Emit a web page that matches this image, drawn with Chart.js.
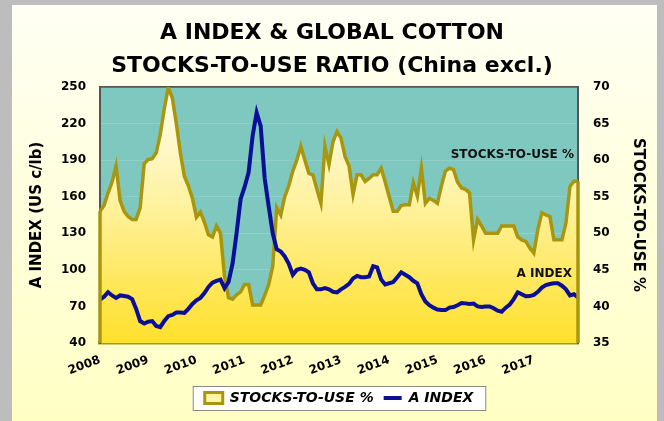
<!DOCTYPE html>
<html>
<head>
<meta charset="utf-8">
<script src="https://cdn.jsdelivr.net/npm/chart.js@4"></script>
<style>
  html, body { margin: 0; padding: 0; }
  body { width: 664px; height: 421px; background: #bdbdbd; position: relative; overflow: hidden; }
  #panel { position: absolute; left: 12px; top: 5px; width: 645px; height: 416px;
           background: linear-gradient(#fffff4, #ffffc4); }
  #chart { position: absolute; left: 0; top: 0; }
</style>
</head>
<body>
<div id="panel"></div>
<canvas id="chart" width="664" height="421"></canvas>
<script>
// Monthly data, Jan 2008 - Dec 2017
const years = ["2008", "2009", "2010", "2011", "2012", "2013", "2014", "2015", "2016", "2017"];

// A INDEX, US cents per lb (left axis)
const aIndex = [
    75.5, 78, 81.6, 79, 77, 79, 78.5, 78, 76, 68, 58, 56,
    57.5, 58, 54, 53, 58, 62, 63, 65, 65, 64.6, 68, 72,
    75, 77, 81, 86, 89.5, 91, 92, 85, 90, 105, 130, 158,
    168, 180, 210, 229, 218, 175, 152, 130, 117, 115, 111, 105,
    96, 100, 101, 100, 98, 89, 84, 84, 85, 84, 82, 81.5,
    84, 86, 88.5, 93, 95, 94, 94, 94.5, 103, 102, 92, 88,
    89, 90, 94, 98, 96, 94, 91, 89, 80, 74, 71, 69,
    67.5, 67, 67, 69, 69.5, 71, 72.8, 72.5, 72, 72.3, 70, 69.5,
    70, 70, 68.5, 66.5, 65.7, 69, 71.5, 76, 81.6, 80, 78.3, 78.5,
    79.5, 82, 85.5, 87.5, 88.4, 89, 89, 87, 84, 79, 80, 77.5
];

// global stocks-to-use ratio excl. China, % (right axis)
const stocksToUse = [
    53, 53.8, 55.5, 57, 59.2, 54.5, 53, 52.3, 51.9, 51.9, 53.5, 59.5,
    60.1, 60.2, 61, 63.5, 67, 69.9, 68.5, 65, 61, 57.8, 56.5, 54.8,
    52.2, 52.9, 51.5, 49.8, 49.5, 51, 50, 44.1, 41.2, 41, 41.6, 42,
    43, 43, 40.2, 40.2, 40.2, 41.5, 43, 45.5, 53.5, 52.5, 55, 56.5,
    58.5, 60, 61.9, 60, 58.2, 58, 56, 54.1, 61.9, 59.4, 62.5, 63.9,
    63, 60.5, 59.2, 55.3, 58, 58, 57.1, 57.5, 58, 58, 58.9, 57,
    55, 53, 53, 53.8, 53.9, 53.9, 56.9, 55.1, 58.9, 54.1, 54.8, 54.5,
    54.1, 56.5, 58.5, 58.9, 58.7, 57, 56.2, 56, 55.5, 49.1, 51.9, 51,
    50, 50, 50, 50, 51, 51, 51, 51, 49.5, 49.1, 48.9, 48,
    47.3, 50.5, 52.8, 52.5, 52.3, 49.1, 49.1, 49.1, 51.4, 56.4, 57.1, 57.1
];

const leftTicks = { min: 40, max: 250, step: 30 };
const rightTicks = { min: 35, max: 70, step: 5 };

const months = [];
years.forEach((y) => {
    for (let m = 1; m <= 12; m++) months.push(y + "-" + String(m).padStart(2, "0"));
});

const GOLD = "#a8960e";
const BLUE = "#0a0f96";
const TEAL = "#7fc8c0";
const FONT = "'DejaVu Sans', sans-serif";

Chart.defaults.color = "#000";
Chart.defaults.font.family = FONT;

// teal plot background + white legend frame
const backdrop = {
    id: "backdrop",
    beforeDraw(chart) {
        const { ctx, chartArea: a, legend } = chart;
        ctx.save();
        ctx.fillStyle = TEAL;
        ctx.fillRect(a.left, a.top, a.right - a.left, a.bottom - a.top);
        ctx.strokeStyle = "#555";
        ctx.lineWidth = 2;
        ctx.beginPath();
        ctx.moveTo(a.left, a.top);
        ctx.lineTo(a.right, a.top);
        ctx.stroke();

        const boxes = legend.legendHitBoxes;
        if (boxes && boxes.length) {
            const l = Math.min(...boxes.map((b) => b.left)) - 12;
            const r = Math.max(...boxes.map((b) => b.left + b.width)) + 12;
            const t = boxes[0].top - 5;
            const h = boxes[0].height + 10;
            ctx.fillStyle = "#fff";
            ctx.fillRect(l, t, r - l, h);
            ctx.strokeStyle = "#8a8a8a";
            ctx.lineWidth = 1;
            ctx.strokeRect(l + 0.5, t + 0.5, r - l, h);
        }
        ctx.restore();
    },
};

// area outline at the two ends + the in-plot series names
const extras = {
    id: "extras",
    afterDatasetsDraw(chart) {
        const { ctx, chartArea: a } = chart;
        const pts = chart.getDatasetMeta(0).data;
        ctx.save();
        ctx.strokeStyle = GOLD;
        ctx.lineWidth = 3.5;
        [pts[0], pts[pts.length - 1]].forEach((p) => {
            ctx.beginPath();
            ctx.moveTo(p.x, p.y);
            ctx.lineTo(p.x, a.bottom);
            ctx.stroke();
        });

        ctx.fillStyle = "#111";
        ctx.font = "bold 12px " + FONT;
        ctx.textAlign = "right";
        ctx.textBaseline = "middle";
        ctx.fillText("STOCKS-TO-USE %", a.right - 4, chart.scales.y2.getPixelForValue(60.7));
        ctx.fillText("A INDEX", a.right - 6, chart.scales.y.getPixelForValue(96.5));
        ctx.restore();
    },
};

function areaGradient(context) {
    const a = context.chart.chartArea;
    if (!a) return "#ffe84a";
    const g = context.chart.ctx.createLinearGradient(0, a.top, 0, a.bottom);
    g.addColorStop(0, "#fffdf2");
    g.addColorStop(0.45, "#fff2a0");
    g.addColorStop(1, "#ffe02a");
    return g;
}

new Chart(document.getElementById("chart"), {
    type: "line",
    data: {
        labels: months,
        datasets: [
            {
                label: "STOCKS-TO-USE %",
                data: stocksToUse,
                yAxisID: "y2",
                borderColor: GOLD,
                borderWidth: 3.5,
                backgroundColor: areaGradient,
                fill: "start",
                pointRadius: 0,
                tension: 0,
                order: 2,
            },
            {
                label: "A INDEX",
                data: aIndex,
                yAxisID: "y",
                borderColor: BLUE,
                borderWidth: 4,
                pointRadius: 0,
                tension: 0,
                fill: false,
                order: 1,
            },
        ],
    },
    options: {
        responsive: false,
        animation: false,
        layout: { padding: { left: 0, right: 0, top: 0, bottom: 6 } },
        plugins: {
            title: {
                display: true,
                text: ["A INDEX & GLOBAL COTTON", "STOCKS-TO-USE RATIO (China excl.)"],
                font: { size: 22, weight: "bold", lineHeight: 1.5 },
                color: "#000",
                padding: { top: 17, bottom: 4 },
            },
            legend: {
                position: "bottom",
                fullSize: false,
                labels: {
                    usePointStyle: true,
                    pointStyleWidth: 18,
                    boxHeight: 11,
                    padding: 10,
                    font: { size: 14, weight: "bold", style: "italic" },
                    generateLabels: () => [
                        { text: "STOCKS-TO-USE %", fillStyle: "#fff4a8", strokeStyle: GOLD, lineWidth: 3, pointStyle: "rect", datasetIndex: 0 },
                        { text: "A INDEX", fillStyle: BLUE, strokeStyle: BLUE, lineWidth: 4, pointStyle: "line", datasetIndex: 1 },
                    ],
                },
            },
            tooltip: { enabled: false },
        },
        scales: {
            x: {
                type: "category",
                offset: false,
                z: 1,
                grid: { display: false },
                border: { color: GOLD, width: 3.5 },
                ticks: {
                    autoSkip: false,
                    minRotation: 20,
                    maxRotation: 20,
                    padding: 2,
                    font: { size: 12, weight: "bold" },
                    callback: (v, i) => (i % 12 === 0 ? years[i / 12] : null),
                },
                afterFit: (s) => { s.height = 38; },
            },
            y: {
                position: "left",
                min: leftTicks.min,
                max: leftTicks.max,
                grid: { color: "rgba(255,255,255,0.15)", drawTicks: false },
                border: { color: "#555", width: 2 },
                ticks: { stepSize: leftTicks.step, padding: 14, font: { size: 12, weight: "bold" } },
                title: {
                    display: true,
                    text: "A INDEX (US c/lb)",
                    font: { size: 15, weight: "bold", lineHeight: 1.2 },
                    padding: { top: 28, bottom: 0 },
                },
                afterFit: (s) => { s.width = 100; },
            },
            y2: {
                position: "right",
                min: rightTicks.min,
                max: rightTicks.max,
                grid: { display: false, drawTicks: false },
                border: { color: "#555", width: 2 },
                ticks: { stepSize: rightTicks.step, padding: 15, font: { size: 12, weight: "bold" } },
                title: {
                    display: true,
                    text: "STOCKS-TO-USE %",
                    font: { size: 15, weight: "bold", lineHeight: 1.2 },
                    padding: { top: 17, bottom: 0 },
                },
                afterFit: (s) => { s.width = 86; },
            },
        },
    },
    plugins: [backdrop, extras],
});
</script>
</body>
</html>
